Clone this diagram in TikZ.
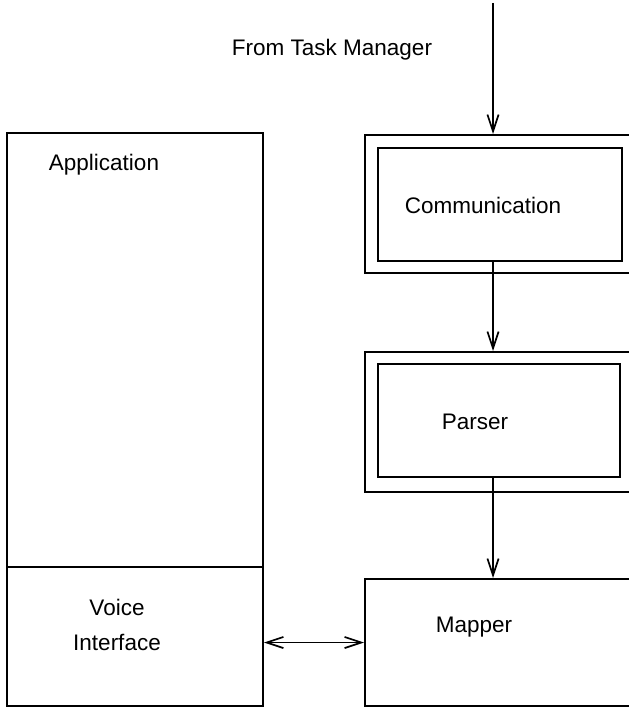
\documentclass[tikz,border=0pt]{standalone}
\usepackage{fontspec}
\setmainfont{Liberation Sans}
\usetikzlibrary{arrows.meta,fit}
\tikzstyle{box}=[draw,line width=1.4pt,inner sep=0pt,rectangle]
\tikzstyle{lbl}=[font=\fontsize{16}{19}\selectfont,inner sep=0pt]
\tikzset{barb/.tip={Straight Barb[length=4.2mm,width=2.8mm,line width=1.2pt]}}
\tikzstyle{flow}=[draw,line width=1.2pt,-barb]
\tikzstyle{twoway}=[draw,line width=1.2pt,barb-barb]

\begin{document}
\begin{tikzpicture}[x=0.025cm,y=-0.025cm]
    \useasboundingbox (0,0) rectangle (629,709);
    \clip (0,0) rectangle (629,709);
    % First we draw the boxes
    \foreach \a/\b/\name in {{(7,133)/(263,567)/app}, {(7,567)/(263,706)/voice},
        {(365,135)/(680,273)/commout}, {(378,148)/(622,261)/commin},
        {(365,352)/(680,492)/parserout}, {(378,364)/(620,477)/parserin},
        {(365,579)/(680,706)/mapper}}
        \node[box,fit={\a \b}] (\name) {};
    % Then the texts
    \foreach \pos/\name/\txt in {{(332,50)/tm/From Task Manager}, {(104,165)/tapp/Application},
        {(117,607)/tvoice/Voice}, {(117,642)/tinter/Interface},
        {(483,205)/tcomm/Communication}, {(475,422)/tparser/Parser}, {(474,627)/tmapper/Mapper}}
        \node[lbl] (\name) at \pos {\txt};
    \coordinate (src) at (493,3);
    % Connect boxes with arrows
    \path[flow] (src) -- (src |- commout.north);
    \path[flow] (src |- commin.south) -- (src |- parserout.north);
    \path[flow] (src |- parserin.south) -- (src |- mapper.north);
    \path[twoway] (voice.east |- mapper.west) -- (mapper.west);
\end{tikzpicture}
\end{document}
